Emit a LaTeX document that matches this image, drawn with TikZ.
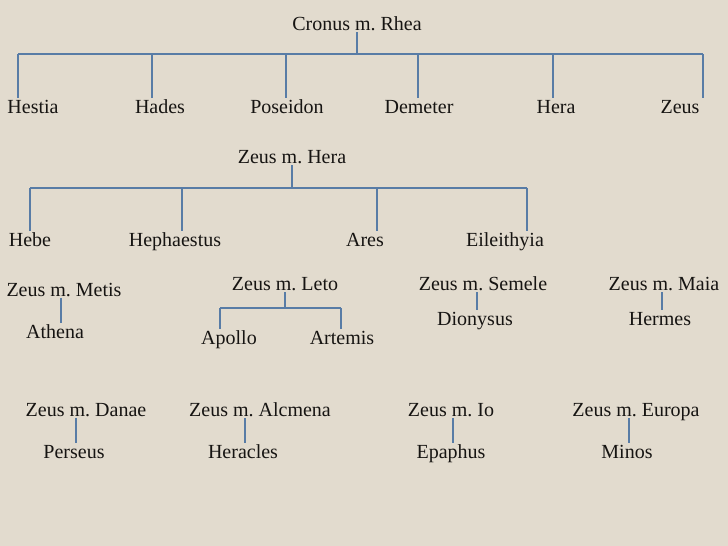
\documentclass[tikz,border=0pt]{standalone}
\usepackage{fontspec}
\setmainfont{Liberation Serif}
\usetikzlibrary{calc}
\frenchspacing

\definecolor{parchment}{RGB}{226,219,206}
\definecolor{tieblue}{RGB}{88,124,166}
\definecolor{ink}{RGB}{22,20,18}

\begin{document}
\begin{tikzpicture}[x=1pt, y=-1pt,
    god/.style = {text=ink, font=\fontsize{20}{24}\selectfont, text height=13pt, text depth=0pt, inner sep=2pt, anchor=base},
    tie/.style = {draw=tieblue, line width=1.2pt}]
            \fill[parchment] (0,0) rectangle (728,546);
            \useasboundingbox (0,0) rectangle (728,546);

            % Cronus and Rhea
            \node[god] (cronus) at (357,30) {Cronus m. Rhea};
            \node[god] (hestia) at (33,113) {Hestia};
            \node[god] (hades) at (160,113) {Hades};
            \node[god] (poseidon) at (287,113) {Poseidon};
            \node[god] (demeter) at (419,113) {Demeter};
            \node[god] (hera) at (556,113) {Hera};
            \node[god] (zeus) at (680,113) {Zeus};
            \coordinate (c1) at (18,54);
            \coordinate (c2) at (152,54);
            \coordinate (c3) at (286,54);
            \coordinate (c4) at (418,54);
            \coordinate (c5) at (553,54);
            \coordinate (c6) at (703,54);
            \draw[tie] (cronus.south) -- (cronus.south |- c1);
            \draw[tie] (c1) -- (c6);
            \foreach \c/\k in {c1/hestia, c2/hades, c3/poseidon, c4/demeter, c5/hera, c6/zeus}
                \draw[tie] (\c) -- (\c |- \k.north);

            % Zeus and Hera
            \node[god] (zhera) at (292,163) {Zeus m. Hera};
            \node[god] (hebe) at (30,246) {Hebe};
            \node[god] (hephaestus) at (175,246) {Hephaestus};
            \node[god] (ares) at (365,246) {Ares};
            \node[god] (eileithyia) at (505,246) {Eileithyia};
            \coordinate (h1) at (30,188);
            \coordinate (h2) at (182,188);
            \coordinate (h3) at (377,188);
            \coordinate (h4) at (527,188);
            \draw[tie] (zhera.south) -- (zhera.south |- h1);
            \draw[tie] (h1) -- (h4);
            \foreach \c/\k in {h1/hebe, h2/hephaestus, h3/ares, h4/eileithyia}
                \draw[tie] (\c) -- (\c |- \k.north);

            % Zeus and Leto
            \node[god] (zleto) at (285,290) {Zeus m. Leto};
            \node[god] (apollo) at (229,344) {Apollo};
            \node[god] (artemis) at (342,344) {Artemis};
            \coordinate (l1) at (220,308);
            \coordinate (l2) at (341,308);
            \draw[tie] (zleto.south) -- (zleto.south |- l1);
            \draw[tie] (l1) -- (l2);
            \draw[tie] (l1) -- (l1 |- apollo.north);
            \draw[tie] (l2) -- (l2 |- artemis.north);

            % Zeus and the others
            \node[god] (zmetis) at (64,296) {Zeus m. Metis};
            \node[god] (athena) at (55,338) {Athena};
            \node[god] (zsemele) at (483,290) {Zeus m. Semele};
            \node[god] (dionysus) at (475,325) {Dionysus};
            \node[god] (zmaia) at (664,290) {Zeus m. Maia};
            \node[god] (hermes) at (660,325) {Hermes};
            \node[god] (zdanae) at (86,416) {Zeus m. Danae};
            \node[god] (perseus) at (74,458) {Perseus};
            \node[god] (zalcmena) at (260,416) {Zeus m. Alcmena};
            \node[god] (heracles) at (243,458) {Heracles};
            \node[god] (zio) at (451,416) {Zeus m. Io};
            \node[god] (epaphus) at (451,458) {Epaphus};
            \node[god] (zeuropa) at (636,416) {Zeus m. Europa};
            \node[god] (minos) at (627,458) {Minos};
            \draw[tie] ([xshift=6]athena.north) -- ([xshift=6]athena.north |- zmetis.south);
            \foreach \p/\k in {zsemele/dionysus, zmaia/hermes, zdanae/perseus, zalcmena/heracles, zio/epaphus, zeuropa/minos}
                \draw[tie] ([xshift=2]\k.north) -- ([xshift=2]\k.north |- \p.south);
\end{tikzpicture}
\end{document}
